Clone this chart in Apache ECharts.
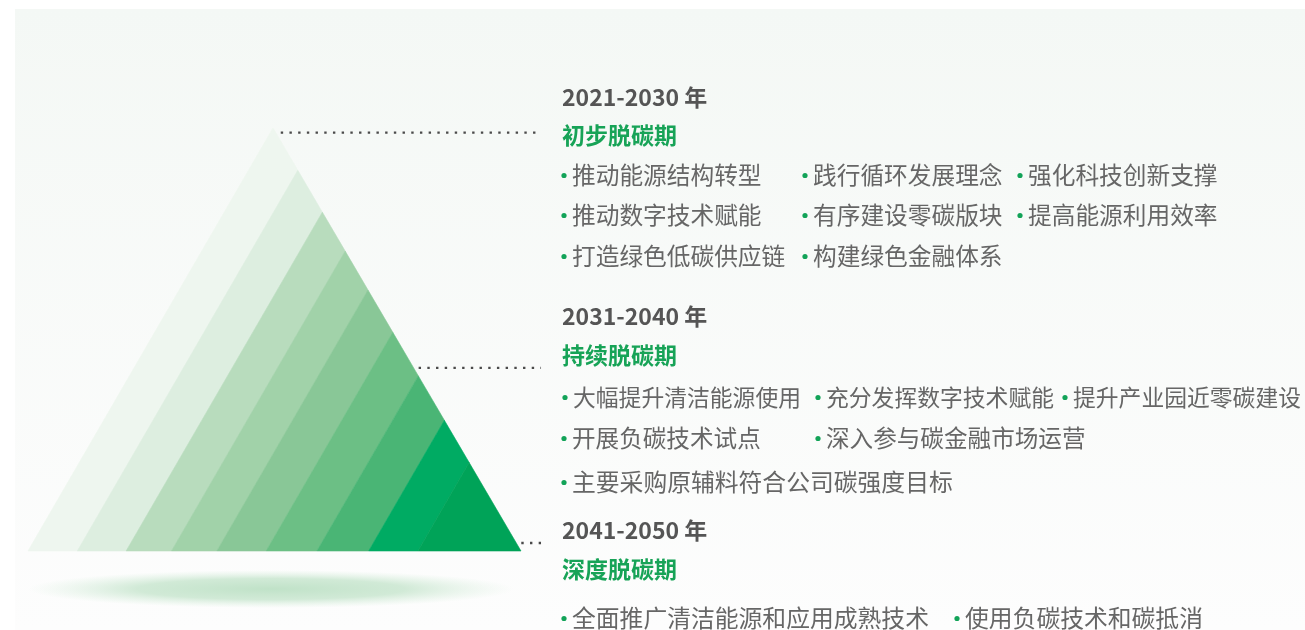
<!DOCTYPE html>
<html>
<head>
<meta charset="utf-8">
<script src="https://cdn.jsdelivr.net/npm/echarts@6/dist/echarts.min.js"></script>
<style>
  html, body { margin: 0; padding: 0; background: #fff; }
  #chart { width: 1305px; height: 630px; }
</style>
</head>
<body>
<div id="chart"></div>
<script>
// 三角形条纹：底边分界点（占底边的百分比）
var stripeEdges = [0, 10.0, 19.9, 29.1, 38.3, 48.3, 58.6, 69.1, 79.1, 100];
var stripeColors = ['#eef6ef', '#ddeee0', '#b8dcbd', '#a1d2a9', '#89c797', '#6cbf85', '#4ab575', '#00ab63', '#00a358'];
var apexX = 49.7; // 顶点在底边上的投影位置（%）

// 引导虚线所在高度（%）
var leaderLevels = [98.9, 43.3, 1.9];

var stageYears = ['2021-2030 年', '2031-2040 年', '2041-2050 年'];
var stageNames = ['初步脱碳期', '持续脱碳期', '深度脱碳期'];
var stageItems = [
  [['推动能源结构转型', '践行循环发展理念', '强化科技创新支撑'],
   ['推动数字技术赋能', '有序建设零碳版块', '提高能源利用效率'],
   ['打造绿色低碳供应链', '构建绿色金融体系']],
  [['大幅提升清洁能源使用', '充分发挥数字技术赋能', '提升产业园近零碳建设'],
   ['开展负碳技术试点', '深入参与碳金融市场运营'],
   ['主要采购原辅料符合公司碳强度目标']],
  [['全面推广清洁能源和应用成熟技术', '使用负碳技术和碳抵消']]
];

// 文字排版
var textLeft = 562;
var layout = [
  { year: 97, name: 135, rows: [175, 215, 256], size: [23.7, 23.7, 23.7],
    cols: [[562, 803, 1018], [562, 803, 1018], [562, 803]] },
  { year: 316, name: 355, rows: [397, 438, 482], size: [22.8, 23.6, 23.8],
    cols: [[563, 816, 1063], [562, 816], [562]] },
  { year: 530, name: 569, rows: [618], size: [23.8],
    cols: [[562, 955]] }
];
var FONT = '"Noto Sans CJK SC", "Noto Sans", sans-serif';

function edgePoint(b) {
  // 平行于左边的分界线与右边的交点
  return [b + (100 - b) * apexX / 100, 100 - b];
}

var stripeData = [];
for (var i = 0; i < stripeEdges.length - 1; i++) {
  stripeData.push([stripeEdges[i], stripeEdges[i + 1]]);
}

var graphics = [
  {
    type: 'rect', z: -10, silent: true,
    shape: { x: 15, y: 9, width: 1290, height: 621 },
    style: {
      fill: new echarts.graphic.LinearGradient(0, 0, 0, 1, [
        { offset: 0, color: '#f4f8f5' },
        { offset: 1, color: '#fdfdfd' }
      ])
    }
  },
  {
    type: 'circle', z: -5, silent: true,
    x: 271, y: 589, scaleY: 19 / 243,
    shape: { cx: 0, cy: 0, r: 243 },
    style: {
      fill: new echarts.graphic.RadialGradient(0.5, 0.5, 0.5, [
        { offset: 0, color: 'rgba(192,226,200,1)' },
        { offset: 0.55, color: 'rgba(198,229,205,0.8)' },
        { offset: 1, color: 'rgba(215,238,220,0)' }
      ])
    }
  }
];

stageYears.forEach(function (year, s) {
  var L = layout[s];
  graphics.push({
    type: 'text', z: 100, x: textLeft, y: L.year,
    style: { text: year, fill: '#555', font: 'bold 23px ' + FONT, verticalAlign: 'middle' }
  });
  graphics.push({
    type: 'text', z: 100, x: textLeft, y: L.name,
    style: { text: stageNames[s], fill: '#17a357', font: 'bold 23px ' + FONT, verticalAlign: 'middle' }
  });
  stageItems[s].forEach(function (row, r) {
    row.forEach(function (item, c) {
      var bx = L.cols[r][c];
      graphics.push({
        type: 'circle', z: 100, x: bx + 2, y: L.rows[r] + 0.5,
        shape: { cx: 0, cy: 0, r: 2.6 },
        style: { fill: '#12a358' }
      });
      graphics.push({
        type: 'text', z: 100, x: bx + 10, y: L.rows[r],
        style: { text: item, fill: '#666', font: L.size[r] + 'px ' + FONT, verticalAlign: 'middle' }
      });
    });
  });
});

var chart = echarts.init(document.getElementById('chart'));
chart.setOption({
  animation: false,
  grid: { left: 28, top: 128, width: 493, height: 423 },
  xAxis: { type: 'value', min: 0, max: 100, show: false },
  yAxis: { type: 'value', min: 0, max: 100, show: false },
  graphic: graphics,
  series: [
    {
      name: 'stripes',
      type: 'custom',
      clip: false,
      data: stripeData,
      renderItem: function (params, api) {
        var b0 = api.value(0), b1 = api.value(1);
        var pts = [[b0, 0], [b1, 0], edgePoint(b1), edgePoint(b0)].map(function (p) {
          return api.coord(p);
        });
        var col = stripeColors[params.dataIndex];
        return {
          type: 'polygon',
          shape: { points: pts },
          style: { fill: col, stroke: col, lineWidth: 0.6 }
        };
      }
    },
    {
      name: 'leaders',
      type: 'custom',
      clip: false,
      data: leaderLevels.map(function (h) { return [h]; }),
      renderItem: function (params, api) {
        var h = api.value(0);
        var xEdge = 100 - h * (100 - apexX) / 100;
        var p0 = api.coord([xEdge, h]);
        var p1 = api.coord([104.06, h]);
        return {
          type: 'line',
          shape: { x1: p0[0] + 5, y1: p0[1], x2: p1[0], y2: p1[1] },
          style: { stroke: '#4a4a4a', lineWidth: 2.4, lineDash: [2.4, 6.3] }
        };
      }
    }
  ]
});
</script>
</body>
</html>
